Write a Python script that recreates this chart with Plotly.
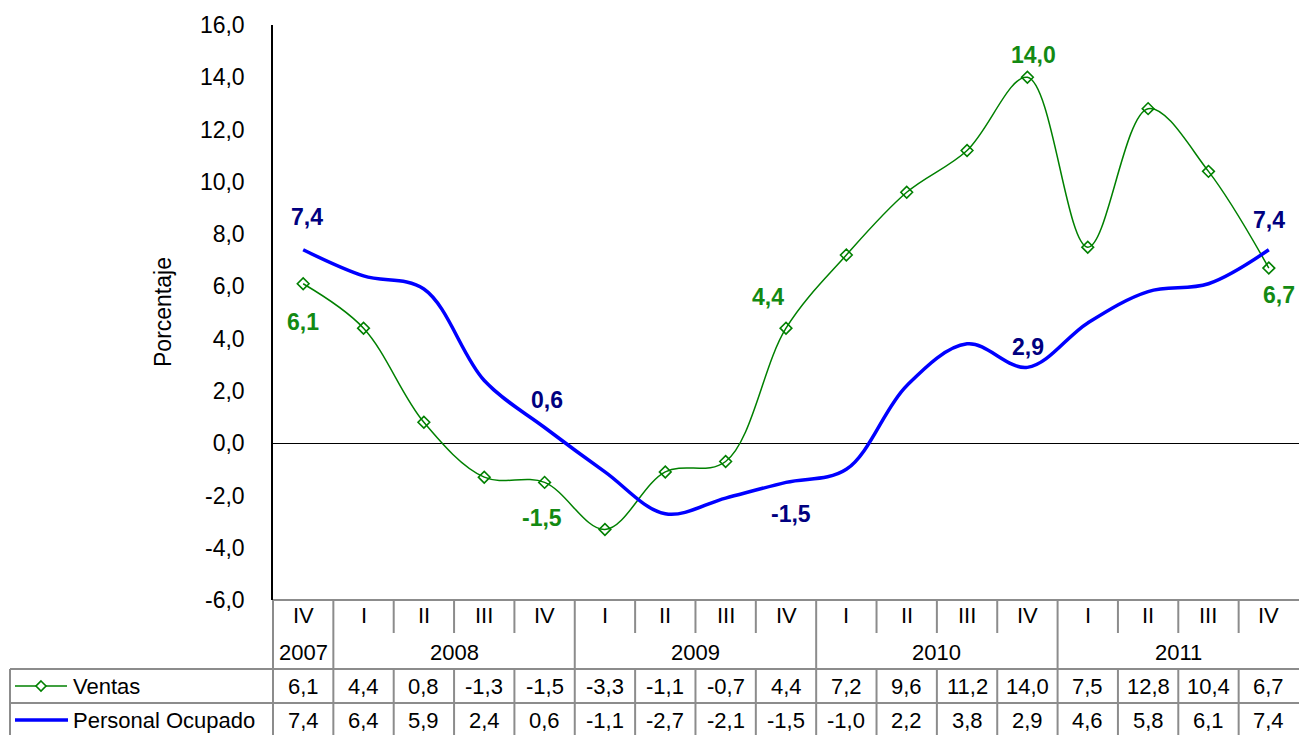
import plotly.graph_objects as go

quarters = ["IV", "I", "II", "III", "IV", "I", "II", "III", "IV",
            "I", "II", "III", "IV", "I", "II", "III", "IV"]
years = ["2007", "2008", "2008", "2008", "2008", "2009", "2009", "2009", "2009",
         "2010", "2010", "2010", "2010", "2011", "2011", "2011", "2011"]
ventas = [6.1, 4.4, 0.8, -1.3, -1.5, -3.3, -1.1, -0.7, 4.4,
          7.2, 9.6, 11.2, 14.0, 7.5, 12.8, 10.4, 6.7]
personal = [7.4, 6.4, 5.9, 2.4, 0.6, -1.1, -2.7, -2.1, -1.5,
            -1.0, 2.2, 3.8, 2.9, 4.6, 5.8, 6.1, 7.4]
y_ticks = [-6, -4, -2, 0, 2, 4, 6, 8, 10, 12, 14, 16]

# labelled points: (index, xshift, yshift)
ventas_labels = [(0, 0, -38), (4, -3, -36), (8, -18, 31), (12, 6, 22), (16, 10, -27)]
personal_labels = [(0, 4, 33), (4, 2, 28), (8, 5, -32), (12, 1, 20), (16, 0, 30)]

FONT = "Liberation Sans, Arial, sans-serif"
GREEN = "#008000"
GREEN_LBL = "#138A13"
BLUE = "#0000FF"
NAVY = "#000080"
GRID = "#8C8C8C"

W, H = 1299, 735
L, T, R, B = 273, 25, 0, 135
PW, PH = W - L - R, H - T - B
n = len(quarters)
idx = list(range(n))


def xp(px):
    return (px - L) / PW


def yp(py):
    return (T + PH - py) / PH


def fmt(v):
    return f"{v:.1f}".replace(".", ",")


fig = go.Figure()
fig.add_trace(go.Scatter(
    x=idx, y=ventas, mode="lines+markers", name="Ventas",
    line=dict(color=GREEN, width=1.5, shape="spline", smoothing=1.0),
    marker=dict(symbol="diamond-open", size=9, color=GREEN, line=dict(width=1.6, color=GREEN)),
    showlegend=False, hoverinfo="skip"))
fig.add_trace(go.Scatter(
    x=idx, y=personal, mode="lines", name="Personal Ocupado",
    line=dict(color=BLUE, width=3.5, shape="spline", smoothing=1.0),
    showlegend=False, hoverinfo="skip"))

annotations = []
for i, dx, dy in ventas_labels:
    annotations.append(dict(x=i, y=ventas[i], xref="x", yref="y", text=f"<b>{fmt(ventas[i])}</b>",
                            showarrow=False, xshift=dx, yshift=dy, xanchor="center", yanchor="middle",
                            font=dict(family=FONT, size=23, color=GREEN_LBL)))
for i, dx, dy in personal_labels:
    annotations.append(dict(x=i, y=personal[i], xref="x", yref="y", text=f"<b>{fmt(personal[i])}</b>",
                            showarrow=False, xshift=dx, yshift=dy, xanchor="center", yanchor="middle",
                            font=dict(family=FONT, size=23, color=NAVY)))

# axis title
annotations.append(dict(x=xp(163), y=yp(312), xref="paper", yref="paper", text="Porcentaje",
                        textangle=-90, showarrow=False, xanchor="center", yanchor="middle",
                        font=dict(family=FONT, size=23, color="black")))

# table rows
row_q, row_y, row_v, row_p = yp(615), yp(652), yp(686), yp(720)
tfont = dict(family=FONT, size=22, color="black")


def cell(x, y, text, xanchor="center"):
    return dict(x=x, y=y, xref="paper", yref="paper", text=text, showarrow=False,
                xanchor=xanchor, yanchor="middle", font=tfont)


for i in idx:
    cx = (i + 0.5) / n
    annotations.append(cell(cx, row_q, quarters[i]))
    annotations.append(cell(cx, row_v, fmt(ventas[i])))
    annotations.append(cell(cx, row_p, fmt(personal[i])))

# year groups
groups = []
for i, yr in enumerate(years):
    if groups and groups[-1][0] == yr:
        groups[-1][2] = i
    else:
        groups.append([yr, i, i])
for yr, a, b in groups:
    cx = ((a + b) / 2 + 0.5) / n
    annotations.append(cell(cx, row_y, yr))

annotations.append(cell(xp(71), row_v, "Ventas", "left"))
annotations.append(cell(xp(71), row_p, "Personal Ocupado", "left"))

shapes = []
gl = dict(color=GRID, width=2)
# top of table
shapes.append(dict(type="line", xref="paper", yref="paper", x0=0, x1=1, y0=yp(600), y1=yp(600), line=gl))
# horizontal lines of data rows
for py in (669, 703):
    shapes.append(dict(type="line", xref="paper", yref="paper", x0=xp(10), x1=1, y0=yp(py), y1=yp(py), line=gl))
# left borders
shapes.append(dict(type="line", xref="paper", yref="paper", x0=0, x1=0, y0=yp(600), y1=yp(736), line=gl))
shapes.append(dict(type="line", xref="paper", yref="paper", x0=xp(10), x1=xp(10), y0=yp(669), y1=yp(736), line=gl))
# column dividers
year_bounds = [a for _, a, _ in groups][1:]
for bnd in range(1, n):
    mid = 669 if bnd in year_bounds else 633
    shapes.append(dict(type="line", xref="paper", yref="paper", x0=bnd / n, x1=bnd / n,
                       y0=yp(600), y1=yp(mid), line=gl))
    shapes.append(dict(type="line", xref="paper", yref="paper", x0=bnd / n, x1=bnd / n,
                       y0=yp(669), y1=yp(736), line=gl))
# legend symbols
shapes.append(dict(type="line", xref="paper", yref="paper", x0=xp(15), x1=xp(67),
                   y0=row_v, y1=row_v, line=dict(color=GREEN, width=1.5)))
d = 5
shapes.append(dict(type="path", xref="paper", yref="paper",
                   path=f"M {xp(41)},{yp(686 - d)} L {xp(41 + d)},{yp(686)} L {xp(41)},{yp(686 + d)} L {xp(41 - d)},{yp(686)} Z",
                   line=dict(color=GREEN, width=1.6), fillcolor="white"))
shapes.append(dict(type="line", xref="paper", yref="paper", x0=xp(15), x1=xp(68),
                   y0=row_p, y1=row_p, line=dict(color=BLUE, width=3.5)))

fig.update_layout(
    width=W, height=H,
    margin=dict(l=L, r=R, t=T, b=B),
    paper_bgcolor="white", plot_bgcolor="white",
    showlegend=False,
    font=dict(family=FONT, size=22, color="black"),
    xaxis=dict(range=[-0.5, n - 0.5], showgrid=False, zeroline=False, showline=False,
               showticklabels=False, ticks="", fixedrange=True),
    yaxis=dict(range=[-6, 16], tickmode="array", tickvals=y_ticks,
               ticktext=[fmt(v) for v in y_ticks], showgrid=False,
               zeroline=True, zerolinecolor="black", zerolinewidth=1.2,
               showline=True, linecolor="black", linewidth=1.5, ticks="",
               ticklabelstandoff=22, tickfont=dict(family=FONT, size=23, color="black")),
    annotations=annotations,
    shapes=shapes,
)

fig.write_html("out.html", config={"displayModeBar": False},
               post_script="document.body.style.margin='0';document.body.style.overflow='hidden';")
